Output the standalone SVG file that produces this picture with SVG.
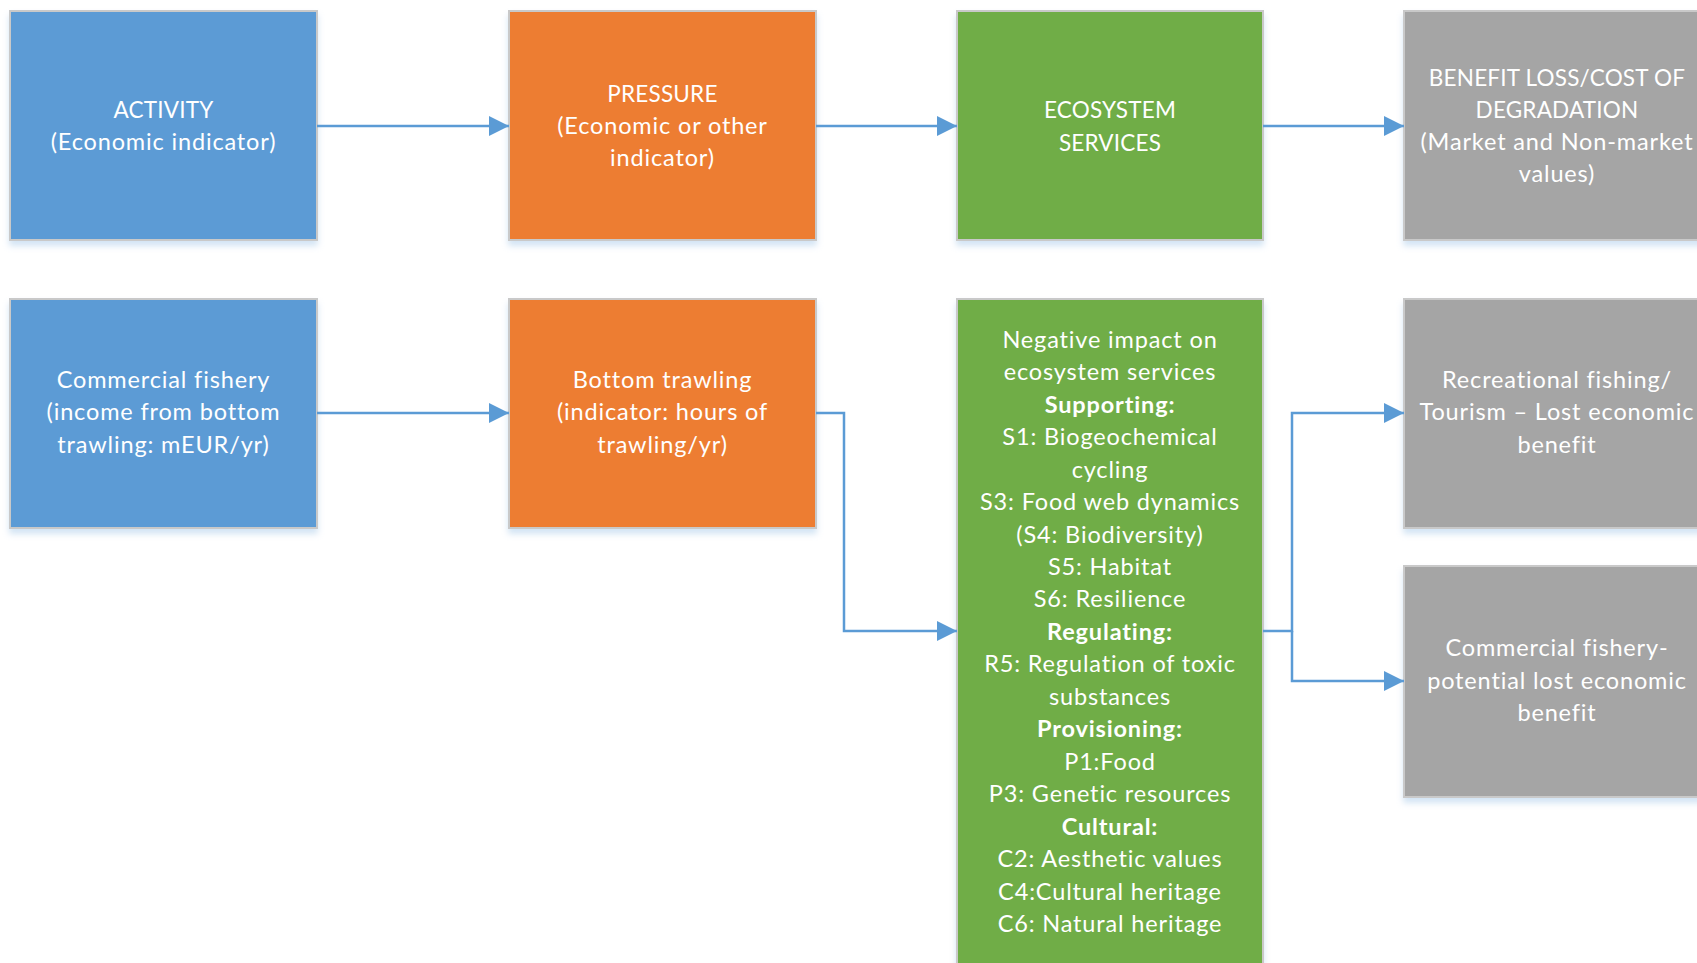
<svg xmlns="http://www.w3.org/2000/svg" width="1697" height="963" viewBox="0 0 1697 963">
<defs>
<filter id="sh" x="-10%" y="-10%" width="120%" height="130%">
<feDropShadow dx="0" dy="5" stdDeviation="3" flood-color="#9DC3E6" flood-opacity="0.45"/>
</filter>
<marker id="ar" viewBox="0 0 20 20" refX="20" refY="10" markerWidth="20" markerHeight="20" markerUnits="userSpaceOnUse" orient="auto">
<path d="M0,0 L20,10 L0,20 Z" fill="#5B9BD5"/>
</marker>
</defs>
<style>
.box{stroke:#C9C9C9;stroke-width:2;filter:url(#sh)}
.blue{fill:#5B9BD5}.orange{fill:#ED7D31}.green{fill:#70AD47}.gray{fill:#A5A5A5}
text{font-family:Lato,"Open Sans","Liberation Sans",sans-serif;font-size:23.5px;fill:#FFFFFF;text-anchor:middle;letter-spacing:0.85px}
.u{font-size:22.5px;letter-spacing:0.2px}
.b{font-weight:bold}
.con{fill:none;stroke:#5B9BD5;stroke-width:2.5}
</style>
<rect width="1697" height="963" fill="#FFFFFF"/>

<g id="activity">
<rect class="box blue" x="10" y="11" width="307" height="229"/>
<text x="163.5" y="118" class="u">ACTIVITY</text>
<text x="163.5" y="150">(Economic indicator)</text>
</g>
<g id="pressure">
<rect class="box orange" x="509" y="11" width="307" height="229"/>
<text x="662.5" y="102" class="u">PRESSURE</text>
<text x="662.5" y="134">(Economic or other</text>
<text x="662.5" y="166">indicator)</text>
</g>
<g id="ecosystem">
<rect class="box green" x="957" y="11" width="306" height="229"/>
<text x="1110" y="118" class="u">ECOSYSTEM</text>
<text x="1110" y="151" class="u">SERVICES</text>
</g>
<g id="benefit">
<rect class="box gray" x="1404" y="11" width="307" height="229"/>
<text x="1557" y="86" class="u">BENEFIT LOSS/COST OF</text>
<text x="1557" y="118" class="u">DEGRADATION</text>
<text x="1557" y="150">(Market and Non-market</text>
<text x="1557" y="182">values)</text>
</g>

<g id="fishery">
<rect class="box blue" x="10" y="299" width="307" height="229"/>
<text x="163.5" y="388">Commercial fishery</text>
<text x="163.5" y="420">(income from bottom</text>
<text x="163.5" y="453">trawling: mEUR/yr)</text>
</g>
<g id="trawling">
<rect class="box orange" x="509" y="299" width="307" height="229"/>
<text x="662.5" y="388">Bottom trawling</text>
<text x="662.5" y="420">(indicator: hours of</text>
<text x="662.5" y="453">trawling/yr)</text>
</g>
<g id="impact">
<rect class="box green" x="957" y="299" width="306" height="680"/>
<text x="1110" y="348">Negative impact on</text>
<text x="1110" y="380">ecosystem services</text>
<text x="1110" y="413" class="b">Supporting:</text>
<text x="1110" y="445">S1: Biogeochemical</text>
<text x="1110" y="478">cycling</text>
<text x="1110" y="510">S3: Food web dynamics</text>
<text x="1110" y="543">(S4: Biodiversity)</text>
<text x="1110" y="575">S5: Habitat</text>
<text x="1110" y="607">S6: Resilience</text>
<text x="1110" y="640" class="b">Regulating:</text>
<text x="1110" y="672">R5: Regulation of toxic</text>
<text x="1110" y="705">substances</text>
<text x="1110" y="737" class="b">Provisioning:</text>
<text x="1110" y="770">P1:Food</text>
<text x="1110" y="802">P3: Genetic resources</text>
<text x="1110" y="835" class="b">Cultural:</text>
<text x="1110" y="867">C2: Aesthetic values</text>
<text x="1110" y="900">C4:Cultural heritage</text>
<text x="1110" y="932">C6: Natural heritage</text>
</g>
<g id="recreational">
<rect class="box gray" x="1404" y="299" width="307" height="229"/>
<text x="1557" y="388">Recreational fishing/</text>
<text x="1557" y="420">Tourism – Lost economic</text>
<text x="1557" y="453">benefit</text>
</g>
<g id="commercial-loss">
<rect class="box gray" x="1404" y="566" width="307" height="231"/>
<text x="1557" y="656">Commercial fishery-</text>
<text x="1557" y="689">potential lost economic</text>
<text x="1557" y="721">benefit</text>
</g>

<g id="connectors">
<path class="con" d="M317,126 H509" marker-end="url(#ar)"/>
<path class="con" d="M816,126 H957" marker-end="url(#ar)"/>
<path class="con" d="M1263,126 H1404" marker-end="url(#ar)"/>
<path class="con" d="M317,413 H509" marker-end="url(#ar)"/>
<path class="con" d="M816,413 H844 V631 H957" marker-end="url(#ar)"/>
<path class="con" d="M1263,631 H1292 V413 H1404" marker-end="url(#ar)"/>
<path class="con" d="M1292,631 V681 H1404" marker-end="url(#ar)"/>
</g>
</svg>
